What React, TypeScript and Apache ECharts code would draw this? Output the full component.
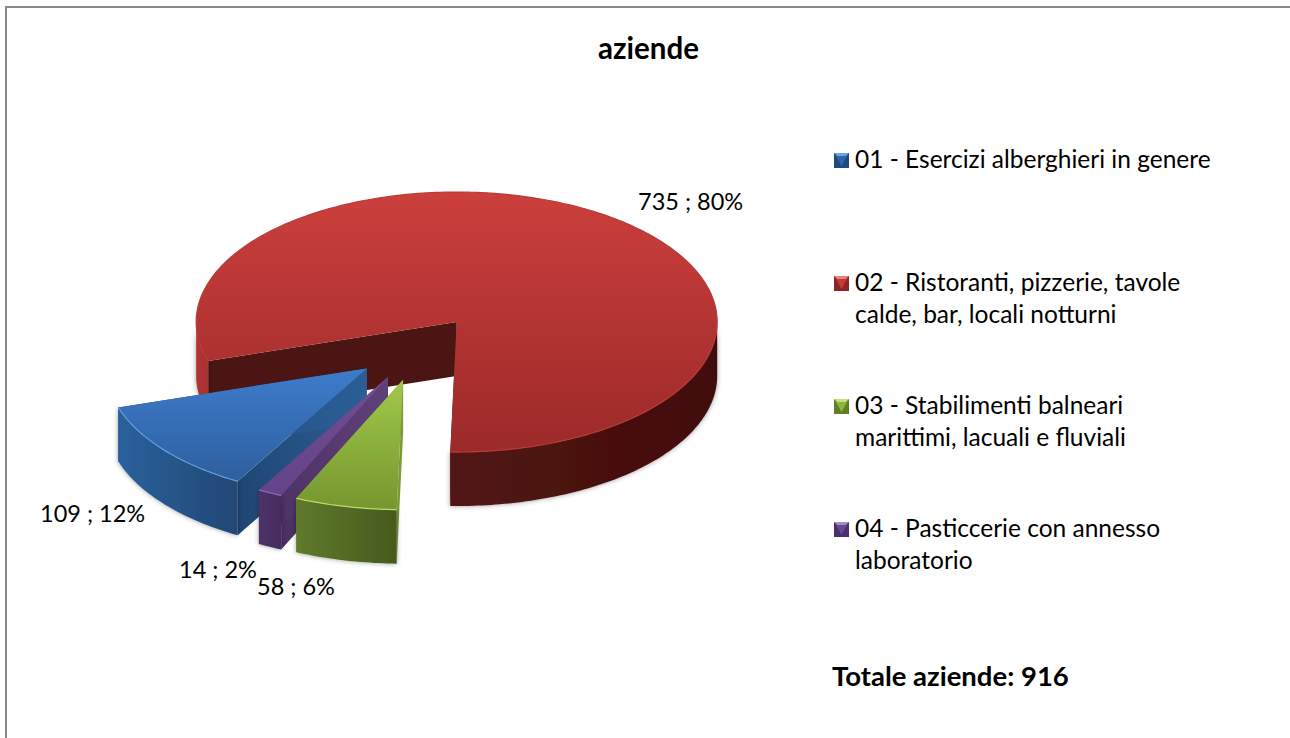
import React, { useEffect, useRef } from "react";
import * as echarts from "echarts";

const categories = [
  "01 - Esercizi alberghieri in genere",
  "02 - Ristoranti, pizzerie, tavole calde, bar, locali notturni",
  "03 - Stabilimenti balneari marittimi, lacuali e fluviali",
  "04 - Pasticcerie con annesso laboratorio",
];
const legendLines = [
  ["01 - Esercizi alberghieri in genere"],
  ["02 - Ristoranti, pizzerie, tavole", "calde, bar, locali notturni"],
  ["03 - Stabilimenti balneari", "marittimi, lacuali e fluviali"],
  ["04 - Pasticcerie con annesso", "laboratorio"],
];
const values = [109, 735, 58, 14];
const titleText = "aziende";
const totalLabel = "Totale aziende: ";

// ---- geometry of the tilted, exploded pie
const FIRST_ANGLE = 209.7;
const CX = 417.5;
const CY = 348;
const RX = 260.5;
const RY = 130;
const DEPTH = 54;
const EXPLODE = 0.25;
const FONT = "Lato";

const drawOrder = [1, 0, 3, 2];
const labelPos = [
  [40, 513],
  [638, 201],
  [257, 586],
  [179, 569],
];
const legendY = [160, 283, 406, 529];

const sliceStyle = [
  {
    top: ["#3d7ccb", "#2e5f9e"],
    rim: "#5f9fe0",
    wallL: ["#2b609c", "#214875"],
    wallR: ["#2b609c", "#214875"],
    cut: ["#1f4674", "#2b5e96"],
    marker: ["#6fa3e0", "#2d66ad", "#1f4a80"],
  },
  {
    top: ["#cc3f3c", "#9b2a29"],
    rim: "#b93a37",
    wallL: ["#b23533", "#a83130"],
    wallR: ["#521413", "#410f0e"],
    cut: ["#4a1513", "#4a1513"],
    marker: ["#e8807c", "#c23b38", "#8c2624"],
  },
  {
    top: ["#a1c94a", "#76962f"],
    rim: "#bcdc68",
    wallL: ["#5f7a2c", "#455a1d"],
    wallR: ["#5f7a2c", "#455a1d"],
    cut: ["#7b9c35", "#7b9c35"],
    marker: ["#c6e07c", "#8fb53c", "#617f26"],
  },
  {
    top: ["#6f4d94", "#644489"],
    rim: "#8d6ab2",
    wallL: ["#4d3268", "#452c5e"],
    wallR: ["#4d3268", "#452c5e"],
    cut: ["#4a3062", "#5f4179"],
    marker: ["#a58cc4", "#6a4794", "#4a2f6c"],
  },
];

const total = values.reduce((a, b) => a + b, 0);
const percent = (v: number) => Math.round((v / total) * 100);

// start/end angles, clockwise from the top, in the order of the categories
const spans: [number, number][] = [];
{
  let a = FIRST_ANGLE;
  values.forEach((v) => {
    const b = a + (v / total) * 360;
    spans.push([a, b]);
    a = b;
  });
}

const rad = (d: number) => (d * Math.PI) / 180;

function apexOf(start: number, end: number): [number, number] {
  const m = rad((start + end) / 2);
  return [CX + EXPLODE * RX * Math.sin(m), CY - EXPLODE * RY * Math.cos(m)];
}
function rimPoint(apex: [number, number], deg: number, dy = 0): [number, number] {
  return [apex[0] + RX * Math.sin(rad(deg)), apex[1] - RY * Math.cos(rad(deg)) + dy];
}
function arc(apex: [number, number], a: number, b: number, dy = 0) {
  const pts: [number, number][] = [];
  const n = Math.max(2, Math.ceil((b - a) / 1));
  for (let i = 0; i <= n; i++) pts.push(rimPoint(apex, a + ((b - a) * i) / n, dy));
  return pts;
}
const hGrad = (c: string[]) =>
  new echarts.graphic.LinearGradient(0, 0, 1, 0, [
    { offset: 0, color: c[0] },
    { offset: 1, color: c[1] },
  ]);
const vGrad = (c: string[]) =>
  new echarts.graphic.LinearGradient(0, 0, 0, 1, [
    { offset: 0, color: c[0] },
    { offset: 1, color: c[1] },
  ]);

function frontRanges(a: number, b: number): [number, number][] {
  // parts of the rim whose wall faces the viewer: between 90 and 270 degrees
  const res: [number, number][] = [];
  for (const k of [-360, 0, 360]) {
    const lo = Math.max(a, 90 + k);
    const hi = Math.min(b, 270 + k);
    if (hi > lo) res.push([lo, hi]);
  }
  return res;
}

function renderSlice(params: any, api: any) {
  const idx = api.value(0) as number;
  const start = api.value(1) as number;
  const end = api.value(2) as number;
  const st = sliceStyle[idx];
  const apex = apexOf(start, end);
  const lowApex: [number, number] = [apex[0], apex[1] + DEPTH];
  const children: any[] = [];

  const cutFace = (deg: number) => ({
    type: "polygon",
    shape: {
      points: [apex, rimPoint(apex, deg), rimPoint(apex, deg, DEPTH), lowApex],
    },
    style: { fill: hGrad(st.cut) },
  });
  children.push(cutFace(start));
  children.push(cutFace(end));

  frontRanges(start, end).forEach(([a, b]) => {
    const norm = (((a + b) / 2) % 360 + 360) % 360;
    const colors = norm > 181 ? st.wallL : st.wallR;
    children.push({
      type: "polygon",
      shape: { points: [...arc(apex, a, b), ...arc(apex, a, b, DEPTH).reverse()] },
      style: {
        fill: hGrad(colors),
        shadowBlur: 5,
        shadowColor: "rgba(0,0,0,0.4)",
      },
    });
  });

  children.push({
    type: "polygon",
    shape: { points: [apex, ...arc(apex, start, end)] },
    style: { fill: vGrad(st.top) },
  });
  children.push({
    type: "polyline",
    shape: { points: arc(apex, start, end) },
    style: { stroke: st.rim, lineWidth: 1.2, fill: "none" },
  });

  const lp = labelPos[idx];
  children.push({
    type: "text",
    x: lp[0],
    y: lp[1],
    style: {
      text: `${values[idx]} ; ${percent(values[idx])}%`,
      font: `23.5px ${FONT}`,
      fill: "#000",
      verticalAlign: "middle",
    },
  });
  return { type: "group", children };
}

function legendGraphics() {
  const out: any[] = [];
  categories.forEach((_, i) => {
    const m = sliceStyle[i].marker;
    const x = 834;
    const y = legendY[i] - 7;
    const s = 15;
    out.push({ type: "rect", shape: { x, y, width: s, height: s }, style: { fill: m[2] } });
    out.push({
      type: "polygon",
      shape: { points: [[x, y], [x + s, y], [x + s - 3, y + 3], [x + 3, y + 3]] },
      style: { fill: m[0] },
    });
    out.push({
      type: "polygon",
      shape: { points: [[x + 2, y + 3], [x + s - 2, y + 3], [x + s / 2, y + s - 2]] },
      style: { fill: m[1] },
    });
    legendLines[i].forEach((line, j) => {
      out.push({
        type: "text",
        x: 855,
        y: legendY[i] - 2 + j * 32,
        style: {
          text: line,
          font: `24.5px ${FONT}`,
          fill: "#000",
          verticalAlign: "middle",
        },
      });
    });
  });
  out.push({
    type: "text",
    x: 832,
    y: 675,
    style: {
      text: `${totalLabel}${total}`,
      font: `bold 27.5px ${FONT}`,
      fill: "#000",
      verticalAlign: "middle",
    },
  });
  out.push({
    type: "line",
    shape: { x1: 5, y1: 7, x2: 1290, y2: 7 },
    style: { stroke: "#8a8a8a", lineWidth: 2 },
  });
  out.push({
    type: "line",
    shape: { x1: 6, y1: 6, x2: 6, y2: 738 },
    style: { stroke: "#8a8a8a", lineWidth: 2 },
  });
  return out;
}

export default function App() {
  const ref = useRef<HTMLDivElement>(null);
  useEffect(() => {
    document.body.style.margin = "0";
    const chart = echarts.init(ref.current!, null, { renderer: "svg" });
    chart.setOption({
      animation: false,
      backgroundColor: "#ffffff",
      title: {
        text: titleText,
        left: 593,
        top: 27,
        textStyle: { fontFamily: FONT, fontWeight: "bold", fontSize: 29.5, color: "#000" },
      },
      graphic: legendGraphics(),
      series: [
        {
          type: "custom",
          coordinateSystem: "none",
          silent: true,
          renderItem: renderSlice,
          data: drawOrder.map((i) => ({
            name: categories[i],
            value: [i, spans[i][0], spans[i][1]],
          })),
        },
      ],
    });
    return () => chart.dispose();
  }, []);
  return <div ref={ref} style={{ width: 1290, height: 738 }} />;
}
